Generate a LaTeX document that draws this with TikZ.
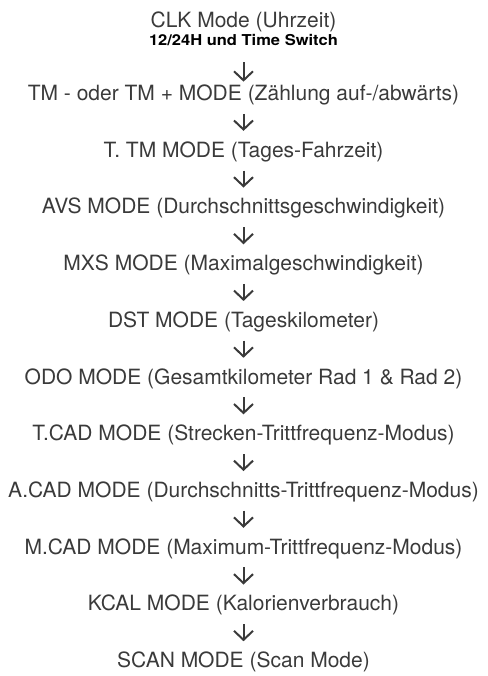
\documentclass[tikz,border=0pt]{standalone}
\usepackage{fontspec}
\setmainfont{TeX Gyre Heros}
\usepackage{tikz}
\usetikzlibrary{positioning, arrows.meta}

\definecolor{modegray}{HTML}{3A3A3A}

\tikzset{
    mode/.style={inner sep=0pt, text=modegray, font=\fontsize{21}{24}\selectfont},
    note/.style={inner sep=0pt, text=black,
        font=\fontsize{15}{16}\selectfont\bfseries\addfontfeature{FakeStretch=1.1}},
    flow/.style={draw=modegray, line width=2pt, shorten <=8.5pt, shorten >=10.5pt,
        -{Straight Barb[length=9pt, width=19pt, line width=2pt]}}
}

\begin{document}
\begin{tikzpicture}[node distance=56.7pt, on grid]

            \useasboundingbox (0,0) rectangle (487pt,-676pt);

            % Modes

            \node[mode] (clk) at (243.5pt,-21.8pt) {CLK Mode (Uhrzeit)};
            \node[note, below=18.2pt of clk] (sw) {12/24H und Time Switch};
            \node[mode, below=55pt of sw] (tm) {TM - oder TM + MODE (Zählung auf-/abwärts)};
            \node[mode, below=of tm] (ttm) {T. TM MODE (Tages-Fahrzeit)};
            \node[mode, below=of ttm] (avs) {AVS MODE (Durchschnittsgeschwindigkeit)};
            \node[mode, below=of avs] (mxs) {MXS MODE (Maximalgeschwindigkeit)};
            \node[mode, below=of mxs] (dst) {DST MODE (Tageskilometer)};
            \node[mode, below=of dst] (odo) {ODO MODE (Gesamtkilometer Rad 1 \& Rad 2)};
            \node[mode, below=of odo] (tcad) {T.CAD MODE (Strecken-Trittfrequenz-Modus)};
            \node[mode, below=of tcad] (acad) {A.CAD MODE (Durchschnitts-Trittfrequenz-Modus)};
            \node[mode, below=of acad] (mcad) {M.CAD MODE (Maximum-Trittfrequenz-Modus)};
            \node[mode, below=of mcad] (kcal) {KCAL MODE (Kalorienverbrauch)};
            \node[mode, below=of kcal] (scan) {SCAN MODE (Scan Mode)};

            % Arrows

            \draw[flow, shorten <=16.5pt, shorten >=3pt] (sw) -- (tm);
            \draw[flow] (tm) -- (ttm);
            \draw[flow] (ttm) -- (avs);
            \draw[flow] (avs) -- (mxs);
            \draw[flow] (mxs) -- (dst);
            \draw[flow] (dst) -- (odo);
            \draw[flow] (odo) -- (tcad);
            \draw[flow] (tcad) -- (acad);
            \draw[flow] (acad) -- (mcad);
            \draw[flow] (mcad) -- (kcal);
            \draw[flow] (kcal) -- (scan);

\end{tikzpicture}
\end{document}
